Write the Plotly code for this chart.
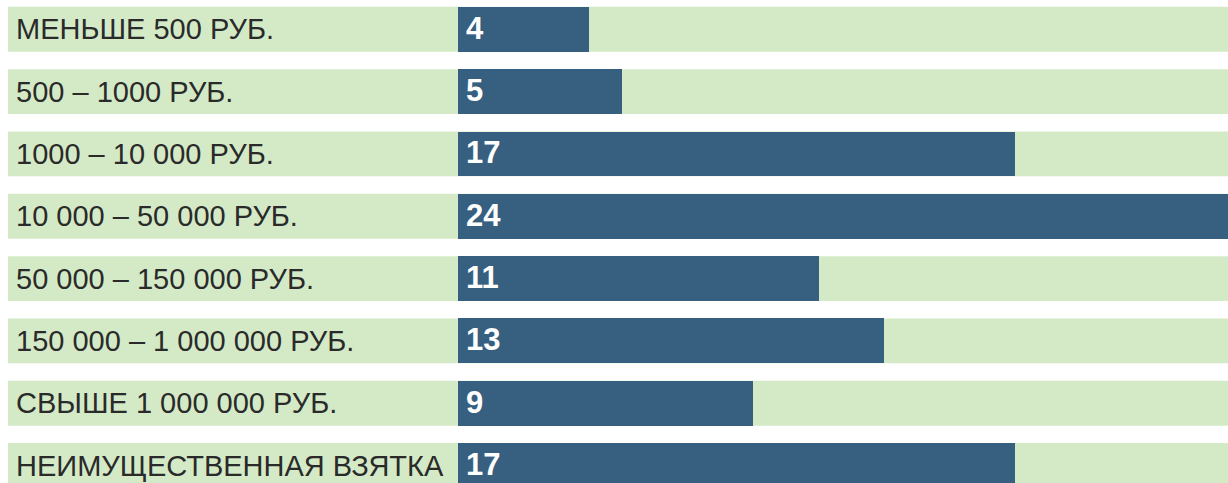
import plotly.graph_objects as go

categories = [
    "МЕНЬШЕ 500 РУБ.",
    "500 – 1000 РУБ.",
    "1000 – 10 000 РУБ.",
    "10 000 – 50 000 РУБ.",
    "50 000 – 150 000 РУБ.",
    "150 000 – 1 000 000 РУБ.",
    "СВЫШЕ 1 000 000 РУБ.",
    "НЕИМУЩЕСТВЕННАЯ ВЗЯТКА",
]
values = [4, 5, 17, 24, 11, 13, 9, 17]

BAR = "#375f7f"
BAND = "#d4eac7"
FONT = "Liberation Sans, Arial, Helvetica, sans-serif"

idx = list(range(len(categories)))

fig = go.Figure()
fig.add_trace(go.Bar(
    y=idx, x=values, orientation="h",
    marker=dict(color=BAR, line=dict(width=0)),
    width=0.72,
    cliponaxis=True,
    hoverinfo="skip",
))

shapes = []
annotations = []
for i, c, v in zip(idx, categories, values):
    shapes.append(dict(type="rect", xref="paper", yref="y", x0=0, x1=1,
                       y0=i - 0.36, y1=i + 0.36, fillcolor=BAND,
                       line=dict(width=0), layer="below"))
    annotations.append(dict(xref="paper", yref="y", x=0, y=i, text=c,
                            xanchor="left", yanchor="middle", xshift=6,
                            showarrow=False,
                            font=dict(family=FONT, size=29, color="#2a2a2a")))
    annotations.append(dict(xref="x", yref="y", x=0, y=i, text="<b>%d</b>" % v,
                            xanchor="left", yanchor="middle", xshift=6, yshift=1,
                            showarrow=False,
                            font=dict(family=FONT, size=31, color="white")))

fig.update_layout(
    width=1228, height=483,
    margin=dict(l=8, r=0, t=0, b=0),
    paper_bgcolor="white", plot_bgcolor="white",
    showlegend=False,
    shapes=shapes, annotations=annotations,
    xaxis=dict(range=[-13.72, 23.48], visible=False, fixedrange=True),
    yaxis=dict(range=[7.28, -0.47], visible=False, fixedrange=True),
    bargap=0,
)

fig.write_html("out.html", config={"displayModeBar": False},
               post_script="document.body.style.margin='0';document.body.style.overflow='hidden';")
